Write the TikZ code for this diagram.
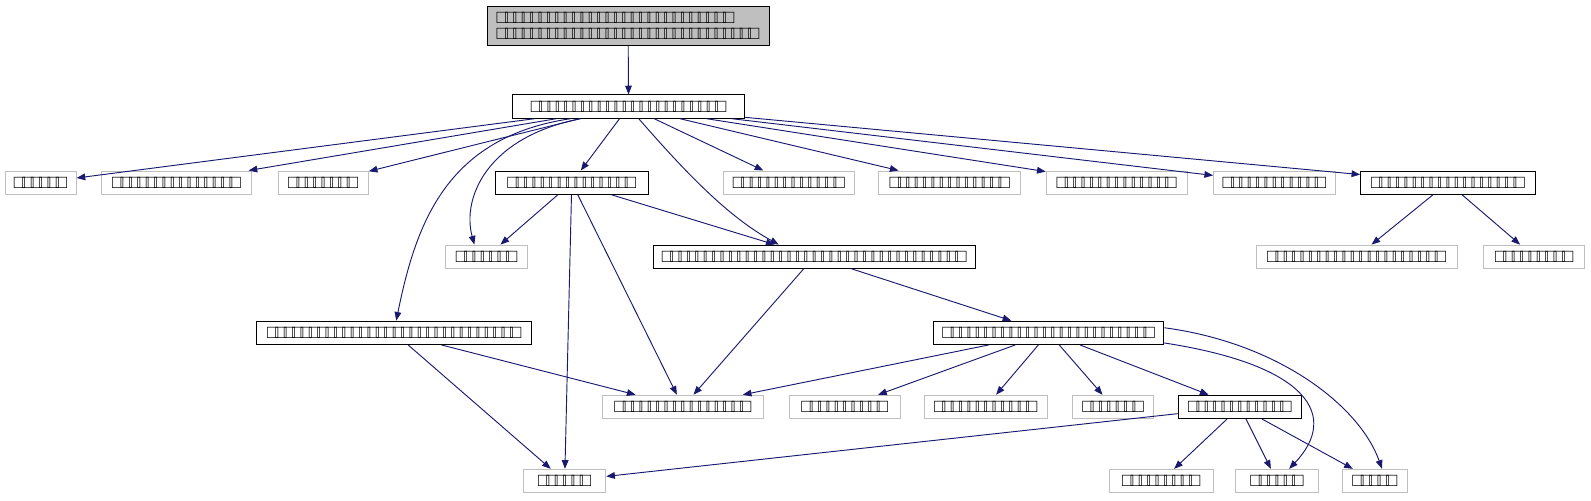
\documentclass[tikz,border=0pt]{standalone}
\usepackage{fontspec}
\newfontfamily\tofufont[LetterSpace=-15.5]{Liberation Sans}
\definecolor{EdgeBlue}{RGB}{25,25,112}
\definecolor{LeafGrey}{RGB}{191,191,191}
\usetikzlibrary{arrows.meta, positioning, calc}

\begin{document}
\begin{tikzpicture}[x=0.761pt, y=-0.761pt,
		fn/.style={draw, line width=0.7pt, minimum height=17.5pt, inner sep=0pt, font=\tofufont\fontsize{14}{11.6}\selectfont},
		leaf/.style={fn, draw=LeafGrey},
		wd/.style={minimum width=#1*0.761pt},
		arr/.style={-{Triangle[length=6.5pt,width=5pt]}, EdgeBlue, line width=0.7pt}]
	\useasboundingbox (0,0) rectangle (1568,493);
	% top two levels
	\node[fn, wd=278, minimum height=29.7pt, fill=LeafGrey, align=left] (top) at (619,25.5) {□□□□□□□□□□□□□□□□□□□□□□□□□□□□\\□□□□□□□□□□□□□□□□□□□□□□□□□□□□□□□};
	\node[fn, wd=229] (main) at (619.5,105) {□□□□□□□□□□□□□□□□□□□□□□□};
	% third row
	\node[leaf, wd=70] (a) at (40,180) {□□□□□□};
	\node[leaf, wd=148] (b) at (174,180) {□□□□□□□□□□□□□□□};
	\node[leaf, wd=89] (c) at (318.5,180) {□□□□□□□□};
	\node[fn, wd=151] (d) at (563.5,180) {□□□□□□□□□□□□□□□};
	\node[leaf, wd=129] (e) at (777.5,180) {□□□□□□□□□□□□□};
	\node[leaf, wd=140] (f) at (936,180) {□□□□□□□□□□□□□□};
	\node[leaf, wd=139] (g) at (1100.5,180) {□□□□□□□□□□□□□□};
	\node[leaf, wd=120] (h) at (1256,180) {□□□□□□□□□□□□};
	\node[fn, wd=172] (i) at (1427,180) {□□□□□□□□□□□□□□□□□□};
	% fourth row
	\node[leaf, wd=81] (j) at (479.5,253) {□□□□□□□};
	\node[fn, wd=317] (k) at (802.5,253) {□□□□□□□□□□□□□□□□□□□□□□□□□□□□□□□□□□□□};
	\node[leaf, wd=198] (l) at (1337,253) {□□□□□□□□□□□□□□□□□□□□□};
	\node[leaf, wd=100] (m) at (1512,253) {□□□□□□□□□};
	% fifth row
	\node[fn, wd=271] (n) at (388.5,328) {□□□□□□□□□□□□□□□□□□□□□□□□□□□□□□};
	\node[fn, wd=227] (o) at (1033.5,328) {□□□□□□□□□□□□□□□□□□□□□□□□□};
	% sixth row
	\node[leaf, wd=158] (p) at (673,401) {□□□□□□□□□□□□□□□□};
	\node[leaf, wd=109] (q) at (832.5,401) {□□□□□□□□□□};
	\node[leaf, wd=121] (r) at (971.5,401) {□□□□□□□□□□□□};
	\node[leaf, wd=80] (s) at (1097,401) {□□□□□□□};
	\node[fn, wd=122] (t) at (1222,401) {□□□□□□□□□□□□};
	% bottom row
	\node[leaf, wd=81] (u) at (556.5,474) {□□□□□□};
	\node[leaf, wd=103] (v) at (1144.5,474) {□□□□□□□□□};
	\node[leaf, wd=81] (w) at (1258.5,474) {□□□□□□};
	\node[leaf, wd=64] (x) at (1355,474) {□□□□□};
	% connectors
	\draw[arr] (top) -- (main);
	\foreach \dst in {a,b,c,d,e,f,g,h,i}
		\draw[arr] (main) -- (\dst);
	\draw[arr] ($(main.south)+(-47,0)$) .. controls (480,135) and (455,195) .. ($(j.north)+(-12,0)$);
	\draw[arr] ($(main.south)+(-57,0)$) .. controls (440,135) and (410,220) .. ($(n.north)+(2,0)$);
	\draw[arr] ($(main.south)+(10,0)$) .. controls (680,175) and (720,215) .. ($(k.north)+(-35,0)$);
	\foreach \dst in {j,k,p,u}
		\draw[arr] (d) -- (\dst);
	\draw[arr] (i) -- (l);
	\draw[arr] (i) -- (m);
	\draw[arr] (k) -- (p);
	\draw[arr] (k) -- (o);
	\draw[arr] (n) -- (p);
	\draw[arr] (n) -- (u);
	\foreach \dst in {p,q,r,s,t}
		\draw[arr] (o) -- (\dst);
	\draw[arr] ($(o.east)+(0,10)$) .. controls (1290,360) and (1320,410) .. ($(w.north)+(12,0)$);
	\draw[arr] ($(o.east)+(0,-5)$) .. controls (1260,338) and (1340,400) .. ($(x.north)+(7,0)$);
	\foreach \dst in {u,v,w,x}
		\draw[arr] (t) -- (\dst);
\end{tikzpicture}
\end{document}
